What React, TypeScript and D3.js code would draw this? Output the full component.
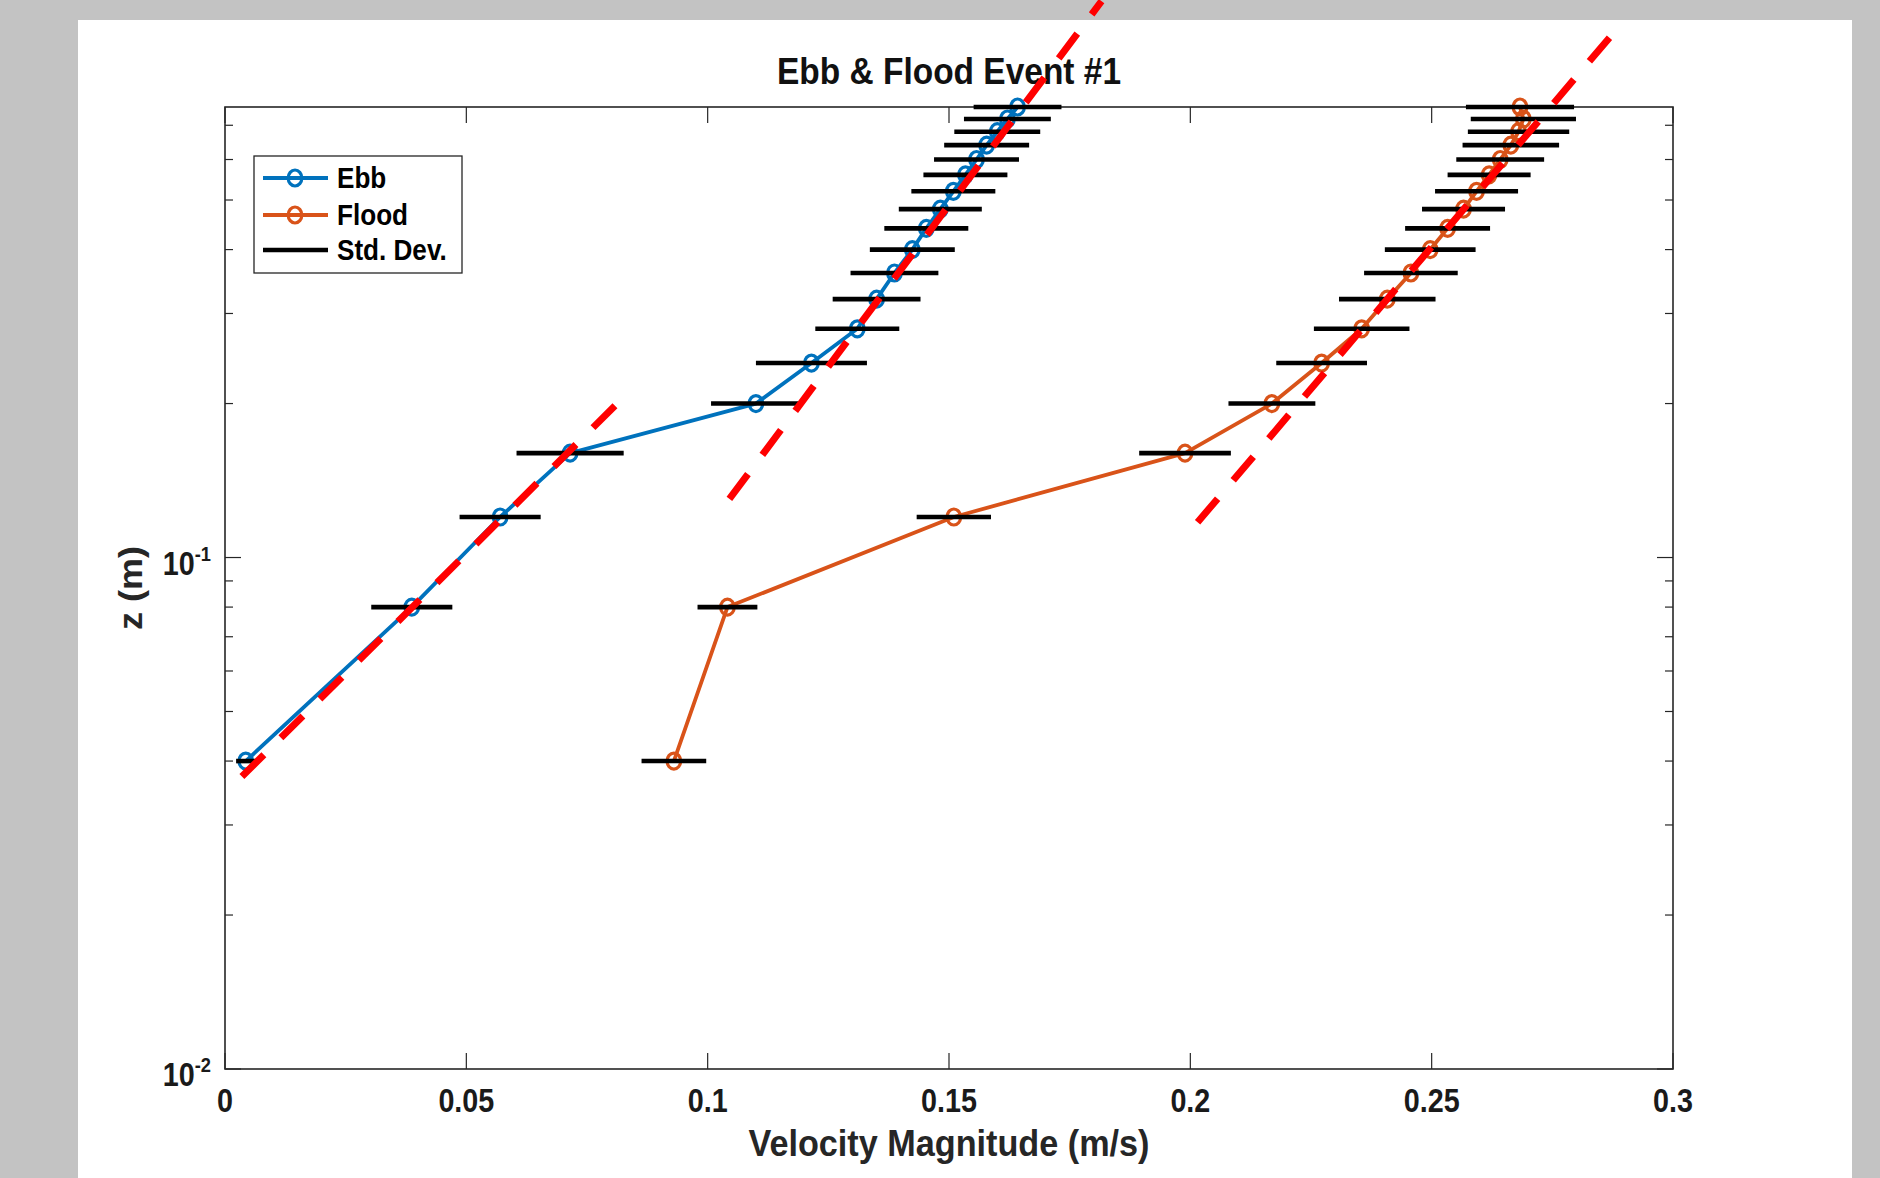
import { useEffect, useRef } from 'react';
import * as d3 from 'd3';

// heights above the bed (m)
const heights = [0.04, 0.08, 0.12, 0.16, 0.20, 0.24, 0.28, 0.32, 0.36, 0.40, 0.44, 0.48, 0.52, 0.56, 0.60, 0.64, 0.68, 0.72, 0.76];

// mean velocity magnitude and standard deviation (m/s)
const ebbSpeed = [0.0043, 0.0387, 0.0570, 0.0715, 0.1100, 0.1215, 0.1310, 0.1350, 0.1387, 0.1424, 0.1453, 0.1482, 0.1509, 0.1534, 0.1557, 0.1578, 0.1600, 0.1621, 0.1642];
const ebbStd = [0.0020, 0.0084, 0.0084, 0.0111, 0.0093, 0.0115, 0.0087, 0.0091, 0.0091, 0.0088, 0.0087, 0.0086, 0.0087, 0.0087, 0.0088, 0.0088, 0.0089, 0.0090, 0.0091];
const floodSpeed = [0.0930, 0.1041, 0.1510, 0.1989, 0.2169, 0.2272, 0.2355, 0.2408, 0.2457, 0.2497, 0.2533, 0.2566, 0.2593, 0.2619, 0.2642, 0.2664, 0.2680, 0.2690, 0.2683];
const floodStd = [0.0067, 0.0062, 0.0077, 0.0095, 0.0090, 0.0094, 0.0099, 0.0100, 0.0097, 0.0094, 0.0088, 0.0086, 0.0086, 0.0086, 0.0091, 0.0100, 0.0105, 0.0109, 0.0112];

// red dashed log-law fits laid over the figure (start / end, data units)
const fitSpeedStart = [0.0035, 0.1045, 0.2015];
const fitZStart = [0.0373, 0.1302, 0.1172];
const fitSpeedEnd = [0.0822, 0.1816, 0.2883];
const fitZEnd = [0.2041, 1.224, 1.078];

const xTicks = [0, 0.05, 0.1, 0.15, 0.2, 0.25, 0.3];
const xTickLabels = ['0', '0.05', '0.1', '0.15', '0.2', '0.25', '0.3'];
const yMajorTicks = [0.01, 0.1];
const yTickExponents = ['-2', '-1'];
const yMinorTicks = [0.02, 0.03, 0.04, 0.05, 0.06, 0.07, 0.08, 0.09, 0.2, 0.3, 0.4, 0.5, 0.6, 0.7];
const legendLabels = ['Ebb', 'Flood', 'Std. Dev.'];

const W = 1880;
const H = 1178;
const FONT = "'Liberation Sans', Arial, Helvetica, sans-serif";
const AXIS = '#262626';
const BLUE = '#0072BD';
const ORANGE = '#D95319';

const App = () => {
  const svgRef = useRef(null);

  useEffect(() => {
    const left = 225, right = 1673, top = 107, bottom = 1069;

    const svg = d3.select(svgRef.current);
    svg.selectAll('*').remove();

    // grey slide background + white figure
    svg.append('rect').attr('width', W).attr('height', H).attr('fill', '#c3c3c3');
    svg.append('rect').attr('x', 78).attr('y', 20).attr('width', 1774).attr('height', H - 20).attr('fill', '#fff');

    const x = d3.scaleLinear().domain([0, 0.3]).range([left, right]);
    const y = d3.scaleLog().domain([0.01, 0.76]).range([bottom, top]);

    // the figure looks a little squeezed sideways, so text is too
    const sq = (px, py) => `translate(${px},${py}) scale(0.87,1)`;

    // ticks (inward, on all four sides)
    const ticks = svg.append('g').attr('stroke', AXIS).attr('stroke-width', 1.2);
    xTicks.forEach(t => {
      ticks.append('line').attr('x1', x(t)).attr('x2', x(t)).attr('y1', bottom).attr('y2', bottom - 16);
      ticks.append('line').attr('x1', x(t)).attr('x2', x(t)).attr('y1', top).attr('y2', top + 16);
    });
    yMajorTicks.forEach(t => {
      ticks.append('line').attr('x1', left).attr('x2', left + 16).attr('y1', y(t)).attr('y2', y(t));
      ticks.append('line').attr('x1', right).attr('x2', right - 16).attr('y1', y(t)).attr('y2', y(t));
    });
    yMinorTicks.forEach(t => {
      ticks.append('line').attr('x1', left).attr('x2', left + 8).attr('y1', y(t)).attr('y2', y(t));
      ticks.append('line').attr('x1', right).attr('x2', right - 8).attr('y1', y(t)).attr('y2', y(t));
    });

    svg.append('rect')
      .attr('x', left).attr('y', top)
      .attr('width', right - left).attr('height', bottom - top)
      .attr('fill', 'none').attr('stroke', AXIS).attr('stroke-width', 1.6);

    // tick labels
    xTicks.forEach((t, i) => {
      svg.append('text')
        .attr('transform', sq(x(t), 1112))
        .attr('text-anchor', 'middle')
        .attr('font-family', FONT).attr('font-weight', 'bold').attr('font-size', 33)
        .attr('fill', '#1a1a1a')
        .text(xTickLabels[i]);
    });
    yMajorTicks.forEach((t, i) => {
      const txt = svg.append('text')
        .attr('transform', sq(211, y(t) + 17))
        .attr('text-anchor', 'end')
        .attr('font-family', FONT).attr('font-weight', 'bold').attr('font-size', 33)
        .attr('fill', '#1a1a1a');
      txt.append('tspan').text('10');
      txt.append('tspan').attr('dy', -14).attr('font-size', 21).text(yTickExponents[i]);
    });

    // title and axis labels
    svg.append('text')
      .attr('x', (left + right) / 2).attr('y', 84)
      .attr('text-anchor', 'middle')
      .attr('font-family', FONT).attr('font-weight', 'bold').attr('font-size', 36)
      .attr('textLength', 344).attr('lengthAdjust', 'spacingAndGlyphs')
      .attr('fill', '#111')
      .text('Ebb & Flood Event #1');
    svg.append('text')
      .attr('x', (left + right) / 2).attr('y', 1156)
      .attr('text-anchor', 'middle')
      .attr('font-family', FONT).attr('font-weight', 'bold').attr('font-size', 36)
      .attr('textLength', 401).attr('lengthAdjust', 'spacingAndGlyphs')
      .attr('fill', '#262626')
      .text('Velocity Magnitude (m/s)');
    svg.append('text')
      .attr('transform', `translate(142,${(top + bottom) / 2}) scale(0.9,1) rotate(-90)`)
      .attr('text-anchor', 'middle')
      .attr('font-family', FONT).attr('font-weight', 'bold').attr('font-size', 36)
      .attr('fill', '#262626')
      .text('z (m)');

    // profiles
    const series = [
      { speed: ebbSpeed, std: ebbStd, color: BLUE },
      { speed: floodSpeed, std: floodStd, color: ORANGE },
    ];
    const line = d3.line().x(d => x(d)).y((_, i) => y(heights[i]));

    series.forEach(s => {
      svg.append('path')
        .attr('d', line(s.speed))
        .attr('fill', 'none')
        .attr('stroke', s.color)
        .attr('stroke-width', 3.8)
        .attr('stroke-linejoin', 'round');
      svg.append('g')
        .selectAll('ellipse')
        .data(s.speed)
        .enter()
        .append('ellipse')
        .attr('cx', d => x(d))
        .attr('cy', (_, i) => y(heights[i]))
        .attr('rx', 6.8).attr('ry', 8)
        .attr('fill', 'none')
        .attr('stroke', s.color)
        .attr('stroke-width', 3.2);
    });

    // std. dev. bars
    series.forEach(s => {
      svg.append('g')
        .selectAll('line')
        .data(s.speed)
        .enter()
        .append('line')
        .attr('x1', (d, i) => x(d - s.std[i]))
        .attr('x2', (d, i) => x(d + s.std[i]))
        .attr('y1', (_, i) => y(heights[i]))
        .attr('y2', (_, i) => y(heights[i]))
        .attr('stroke', '#000')
        .attr('stroke-width', 4.6);
    });

    // legend
    const lg = svg.append('g');
    lg.append('rect')
      .attr('x', 254).attr('y', 156).attr('width', 208).attr('height', 117)
      .attr('fill', '#fff').attr('stroke', AXIS).attr('stroke-width', 1.3);
    const legendY = [178, 215, 250];
    const legendColors = [BLUE, ORANGE, '#000'];
    legendLabels.forEach((lab, i) => {
      lg.append('line')
        .attr('x1', 263).attr('x2', 328).attr('y1', legendY[i]).attr('y2', legendY[i])
        .attr('stroke', legendColors[i]).attr('stroke-width', i === 2 ? 4.6 : 3.8);
      if (i < 2) {
        lg.append('ellipse')
          .attr('cx', 295).attr('cy', legendY[i]).attr('rx', 6.8).attr('ry', 8)
          .attr('fill', 'none').attr('stroke', legendColors[i]).attr('stroke-width', 3.2);
      }
      lg.append('text')
        .attr('transform', sq(337, legendY[i] + 10))
        .attr('font-family', FONT).attr('font-weight', 'bold').attr('font-size', 30)
        .attr('fill', '#000')
        .text(lab);
    });

    // dashed fits on top of everything (not clipped to the axes)
    fitSpeedStart.forEach((v, i) => {
      svg.append('line')
        .attr('x1', x(v)).attr('y1', y(fitZStart[i]))
        .attr('x2', x(fitSpeedEnd[i])).attr('y2', y(fitZEnd[i]))
        .attr('stroke', '#ff0000')
        .attr('stroke-width', 7)
        .attr('stroke-dasharray', '31 24');
    });
  }, []);

  return (
    <svg
      ref={svgRef}
      width={W}
      height={H}
      style={{ position: 'absolute', left: 0, top: 0, display: 'block' }}
    ></svg>
  );
};

export default App;
